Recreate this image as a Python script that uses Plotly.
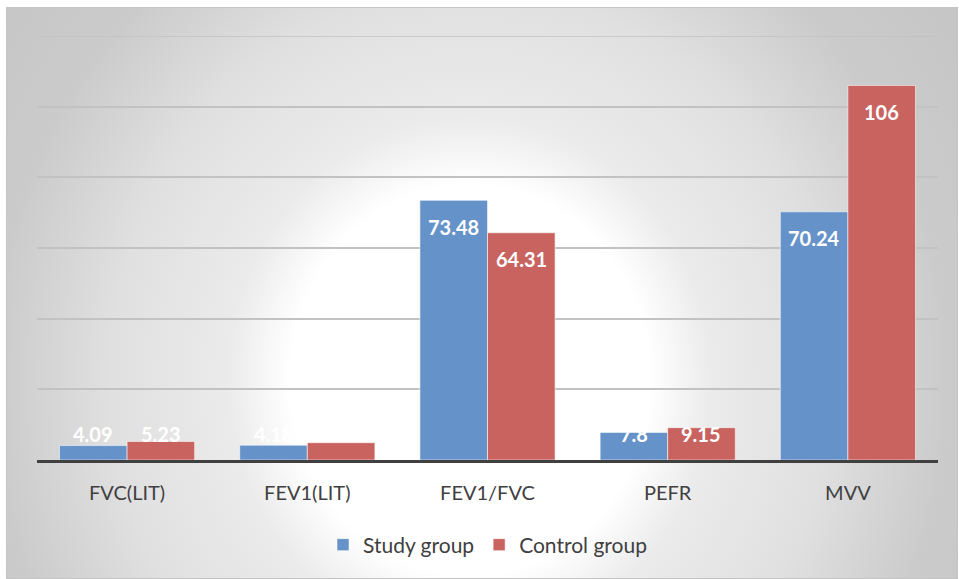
import base64
import plotly.graph_objects as go

# Spirometry parameters and group means
categories = ["FVC(LIT)", "FEV1(LIT)", "FEV1/FVC", "PEFR", "MVV"]
study_group = [4.09, 4.18, 73.48, 7.8, 70.24]
control_group = [5.23, 4.9, 64.31, 9.15, 106]
series_names = ["Study group", "Control group"]

BLUE = "#6592C8"
RED = "#C8635F"
FONT = "Lato"
GRID = "#c2c2c2"

W, H = 959, 579
L, R, T, B = 37, 21, 36, 119
plot_w, plot_h = W - L - R, H - T - B
y_max = 120

# Soft radial background for the chart area (white core, grey rim)
bg_w, bg_h = 952, 572
cx, cy = 464, 373
svg = f"""<svg xmlns='http://www.w3.org/2000/svg' width='{bg_w}' height='{bg_h}'>
<defs><radialGradient id='g' gradientUnits='userSpaceOnUse' cx='{cx}' cy='{cy}' r='620'
 gradientTransform='translate({cx},{cy}) scale(1,1.084) translate({-cx},{-cy})'>
<stop offset='0' stop-color='#ffffff'/>
<stop offset='0.29' stop-color='#ffffff'/>
<stop offset='0.39' stop-color='#ebebeb'/>
<stop offset='0.58' stop-color='#e0e0e0'/>
<stop offset='0.77' stop-color='#cbcbcb'/>
<stop offset='1' stop-color='#c4c4c4'/>
</radialGradient></defs>
<rect x='0.5' y='0.5' width='{bg_w-1}' height='{bg_h-1}' fill='url(#g)' stroke='#c4c4c4' stroke-width='1'/>
</svg>"""
bg_uri = "data:image/svg+xml;base64," + base64.b64encode(svg.encode()).decode()

fig = go.Figure()
for name, vals, col in [(series_names[0], study_group, BLUE),
                        (series_names[1], control_group, RED)]:
    fig.add_trace(go.Bar(
        name=name, x=categories, y=vals,
        marker=dict(color=col, line=dict(color="rgba(255,255,255,0.55)", width=1)),
        hoverinfo="x+y",
    ))

# Value labels near the top of each bar (short bars keep the label just above the axis)
px_per_unit = plot_h / y_max
cat_px = plot_w / len(categories)
bar_px = cat_px * 0.75 / 2
annotations = []
for vals, sgn in [(study_group, -1), (control_group, 1)]:
    for cat, v in zip(categories, vals):
        tall = v * px_per_unit > 53
        annotations.append(dict(
            x=cat, y=v if tall else 0, xref="x", yref="y",
            text=f"{v:g}", showarrow=False,
            xshift=sgn * bar_px / 2,
            yshift=-26.5 if tall else 26,
            yanchor="middle", xanchor="center",
            font=dict(family=FONT, size=20, color="white", weight="bold"),
        ))

fig.update_layout(
    width=W, height=H,
    margin=dict(l=L, r=R, t=T, b=B),
    paper_bgcolor="white",
    plot_bgcolor="rgba(0,0,0,0)",
    barmode="group", bargap=0.25, bargroupgap=0,
    font=dict(family=FONT, color="#404040"),
    annotations=annotations,
    # gridline at the top of the value range (plotly skips grid at the plot edge)
    shapes=[dict(type="line", xref="paper", x0=0, x1=1, yref="y", y0=y_max, y1=y_max,
                 line=dict(color=GRID, width=1.5), layer="below")],
    images=[dict(
        source=bg_uri, xref="paper", yref="paper",
        x=(6 - L) / plot_w, y=(H - B - 7) / plot_h,
        sizex=bg_w / plot_w, sizey=bg_h / plot_h,
        xanchor="left", yanchor="top", sizing="stretch", layer="below",
    )],
    xaxis=dict(
        showline=True, linecolor="#404040", linewidth=3,
        showgrid=False, ticks="", ticklabelstandoff=13,
        tickfont=dict(family=FONT, size=20, color="#404040"),
    ),
    yaxis=dict(
        range=[0, y_max], dtick=20, showticklabels=False,
        showgrid=True, gridcolor=GRID, gridwidth=1.5,
        zeroline=False, showline=False,
    ),
    legend=dict(
        orientation="h", x=0.5, xanchor="center",
        y=(H - B - 545) / plot_h, yanchor="middle",
        font=dict(family=FONT, size=21, color="#404040"),
        bgcolor="rgba(0,0,0,0)",
    ),
)

fig.write_html("out.html")
